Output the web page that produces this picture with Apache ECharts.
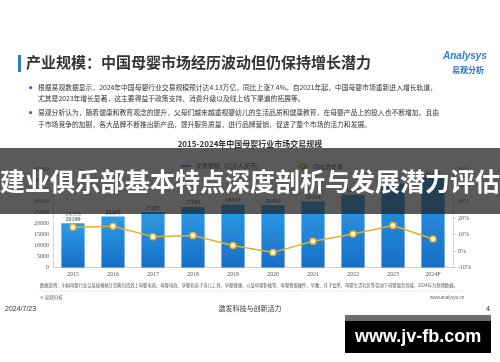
<!DOCTYPE html>
<html><head><meta charset="utf-8">
<script src="https://cdn.jsdelivr.net/npm/echarts@6/dist/echarts.min.js"></script>
<style>html,body{margin:0;padding:0;background:#fff}#c{width:500px;height:362px}</style>
</head><body><div id="c"></div>
<script>
const years = ['2015','2016','2017','2018','2019','2020','2021','2022','2023','2024F'];
const scale = [20199, 23247, 25287, 27689, 28633, 28400, 30104, 33235, 38420, 41257];
const growth = [14.5, 15.1, 8.8, 9.5, 3.4, -0.8, 6.0, 10.4, 15.6, 7.4];
const leftTicks = {min: 0, max: 45000, interval: 5000};
const rightTicks = {min: -10, max: 50, interval: 10};

const CJK = '"Noto Sans CJK SC", sans-serif';
const chart = echarts.init(document.getElementById('c'), null, {renderer: 'canvas'});
const txt = (x, y, s, style, z) => ({type: 'text', left: x, top: y, z: z || 5,
  style: Object.assign({text: s, fill: '#333', font: '7px ' + CJK}, style)});

chart.setOption({
  backgroundColor: '#fff',
  animation: false,
  textStyle: {fontFamily: CJK},
  grid: {left: 53, right: 47, top: 169, bottom: 94.5},
  legend: [
    {data: [{name: '交易规模（亿元人民币）', icon: 'path://M0,2 L12,2 L12,4 L0,4 Z'}], left: 176, top: 158,
     itemWidth: 10, itemHeight: 6, textStyle: {fontSize: 6, color: '#444'}},
    {data: ['同比增长率'], left: 292, top: 158,
     itemWidth: 10, itemHeight: 6, textStyle: {fontSize: 6, color: '#444'}}
  ],
  xAxis: {type: 'category', data: years,
    axisLine: {lineStyle: {color: '#cfcfcf'}}, axisTick: {show: false},
    axisLabel: {fontSize: 6, color: '#555', margin: 4, fontFamily: 'Liberation Serif'}},
  yAxis: [
    {type: 'value', min: leftTicks.min, max: leftTicks.max, interval: leftTicks.interval,
     axisLine: {show: true, lineStyle: {color: '#d8d8d8'}}, axisTick: {show: false},
     splitLine: {show: false},
     axisLabel: {fontSize: 6, color: '#555', margin: 4, fontFamily: 'Liberation Serif', formatter: v => String(v)}},
    {type: 'value', min: rightTicks.min, max: rightTicks.max, interval: rightTicks.interval,
     axisLine: {show: true, lineStyle: {color: '#d8d8d8'}}, axisTick: {show: true, length: 3, lineStyle: {color: '#cfcfcf'}},
     splitLine: {show: false},
     axisLabel: {fontSize: 6, color: '#555', margin: 5, formatter: v => v + '%', fontFamily: 'Liberation Serif'}}
  ],
  series: [
    {name: '交易规模（亿元人民币）', type: 'bar', data: scale, barWidth: '58%',
     itemStyle: {color: new echarts.graphic.LinearGradient(0, 0, 0, 1, [
       {offset: 0, color: '#2b9ce8'}, {offset: 1, color: '#176fc6'}])},
     label: {show: true, position: 'top', distance: 1, fontSize: 6, color: '#333', fontFamily: 'Liberation Serif', formatter: p => String(p.value)}},
    {name: '同比增长率', type: 'line', yAxisIndex: 1, data: growth,
     symbol: 'circle', symbolSize: 6,
     lineStyle: {color: '#e6ad2c', width: 1.5},
     itemStyle: {color: '#fffbe8', borderColor: '#e6ad2c', borderWidth: 1.5},
     label: {show: true, position: 'top', distance: 6, fontSize: 6, color: '#5d7f9e', formatter: p => p.value.toFixed(1) + '%', fontFamily: 'Liberation Serif'}}
  ],
  graphic: [
    {type: 'rect', left: 18, top: 55, z: 5, shape: {width: 3, height: 17}, style: {fill: '#2a7fd4'}},
    txt(26, 55, '产业规模：中国母婴市场经历波动但仍保持增长潜力', {font: 'bold 15px ' + CJK, fill: '#333'}),
    txt(443, 51, 'Analysys', {font: 'italic bold 10px "Liberation Sans"', fill: '#2a7fd4'}),
    txt(452, 66, '易观分析', {font: 'bold 8px ' + CJK, fill: '#2a6fc0'}),
    {type: 'circle', left: 29, top: 86, z: 5, shape: {r: 1.6}, style: {fill: '#2a6fc0'}},
    {type: 'circle', left: 29, top: 111, z: 5, shape: {r: 1.6}, style: {fill: '#2a6fc0'}},
    txt(38, 84, '根据易观数据显示，2024年中国母婴行业交易规模预计达4.13万亿，同比上涨7.4%。自2021年起，中国母婴市场重新进入增长轨道，', {font: '6.8px ' + CJK}),
    txt(38, 95, '尤其是2023年增长显著，这主要得益于政策支持、消费升级以及线上线下渠道的拓展等。', {font: '6.8px ' + CJK}),
    txt(38, 109, '易观分析认为，随着健康和教育观念的提升，父母们越来越重视婴幼儿的生活品质和健康教育，在母婴产品上的投入也不断增加。且由', {font: '6.8px ' + CJK}),
    txt(38, 121, '于市场竞争的加剧，各大品牌不断推出新产品，提升服务质量，进行品牌营销，促进了整个市场的活力和发展。', {font: '6.8px ' + CJK}),
    {type: 'text', left: 'center', top: 140, z: 5, style: {text: '2015-2024年中国母婴行业市场交易规模', fill: '#333', font: 'bold 8px ' + CJK}},
    txt(40, 283, '数据说明：中国母婴行业交易规模统计范畴包括线上母婴电商、母婴电商、孕婴和亲子育儿工具、孕婴健康，以及母婴影楼等、母婴智能硬件、早教、月子会所、母婴生活社区等带动下母婴服务领域，2024年为预测数据。', {font: '4.3px ' + CJK, fill: '#555'}),
    {type: 'line', z: 5, shape: {x1: 38, y1: 291, x2: 465, y2: 291}, style: {stroke: '#ddd', lineWidth: 0.6}},
    txt(40, 295, '© 易观分析', {font: '4.5px ' + CJK, fill: '#666'}),
    txt(430, 295, 'www.analysys.cn', {font: '4.5px "Liberation Sans"', fill: '#666'}),
    txt(5, 306, '2024/7/23', {font: '7px "Liberation Sans"', fill: '#333'}),
    {type: 'text', left: 'center', top: 305, z: 5, style: {text: '激发科技与创新活力', fill: '#333', font: '7px ' + CJK}},
    txt(486, 306, '4', {font: '7px "Liberation Sans"', fill: '#333'}),
    {type: 'rect', left: 0, top: 148, z: 100, shape: {width: 500, height: 66}, style: {fill: 'rgba(35,35,35,0.75)'}},
    {type: 'text', left: 'center', top: 169, z: 101, style: {text: '建业俱乐部基本特点深度剖析与发展潜力评估', fill: '#fff', font: 'bold 25px ' + CJK}},
    {type: 'rect', left: 345, top: 315, z: 100, shape: {width: 146, height: 38}, style: {fill: '#000'}},
    {type: 'rect', left: 345, top: 315, z: 101, shape: {width: 146, height: 6}, style: {fill: '#6e6e6e'}},
    {type: 'text', left: 355, top: 328, z: 102, style: {text: 'www.jv-fb.com', fill: '#fff', font: 'bold 18px "Liberation Sans"'}}
  ]
});
</script></body></html>
